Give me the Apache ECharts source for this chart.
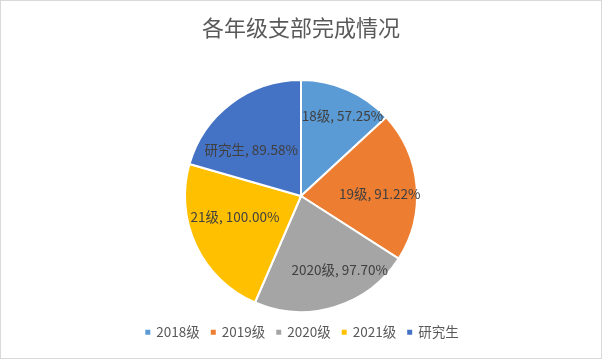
<!DOCTYPE html>
<html>
<head>
<meta charset="utf-8">
<script src="https://cdn.jsdelivr.net/npm/echarts@6/dist/echarts.min.js"></script>
<style>
html,body{margin:0;padding:0;background:#fff;}
#c{width:600px;height:357px;border:1px solid #d9d9d9;}
</style>
</head>
<body>
<div id="c"></div>
<script>
const title = '各年级支部完成情况';
const categories = ['2018级', '2019级', '2020级', '2021级', '研究生'];
const labelNames = ['18级', '19级', '2020级', '21级', '研究生'];
const values = [57.25, 91.22, 97.70, 100.00, 89.58];
const colors = ['#5B9BD5', '#ED7D31', '#A5A5A5', '#FFC000', '#4472C4'];

// label nudges (style only) to mimic Excel's best-fit placement
const labelShift = [[17, -24], [18, 3], [21, 16], [-11, -5], [-13, 3]];

const font = '"Noto Sans CJK SC", "Noto Sans", sans-serif';
const chart = echarts.init(document.getElementById('c'), null, {renderer: 'canvas'});
chart.setOption({
  animation: false,
  color: colors,
  title: {
    text: title, left: 'center', top: 11,
    textStyle: {fontFamily: font, fontSize: 22, fontWeight: 'normal', color: '#595959'}
  },
  legend: {
    data: categories, bottom: 14, left: 'center',
    icon: 'rect', itemWidth: 7, itemHeight: 7, itemGap: 9,
    textStyle: {fontFamily: font, fontSize: 13.5, color: '#595959'}
  },
  series: [{
    type: 'pie',
    center: [300, 195],
    radius: [0, 116],
    startAngle: 90,
    clockwise: true,
    itemStyle: {borderColor: '#fff', borderWidth: 2},
    label: {
      show: true, position: 'inside',
      fontFamily: font, fontSize: 13.5, color: '#404040',
      formatter: p => labelNames[p.dataIndex] + ', ' + p.value.toFixed(2) + '%'
    },
    labelLayout: p => ({dx: labelShift[p.dataIndex][0], dy: labelShift[p.dataIndex][1]}),
    emphasis: {disabled: true},
    data: categories.map((c, i) => ({name: c, value: values[i]}))
  }]
});
</script>
</body>
</html>
